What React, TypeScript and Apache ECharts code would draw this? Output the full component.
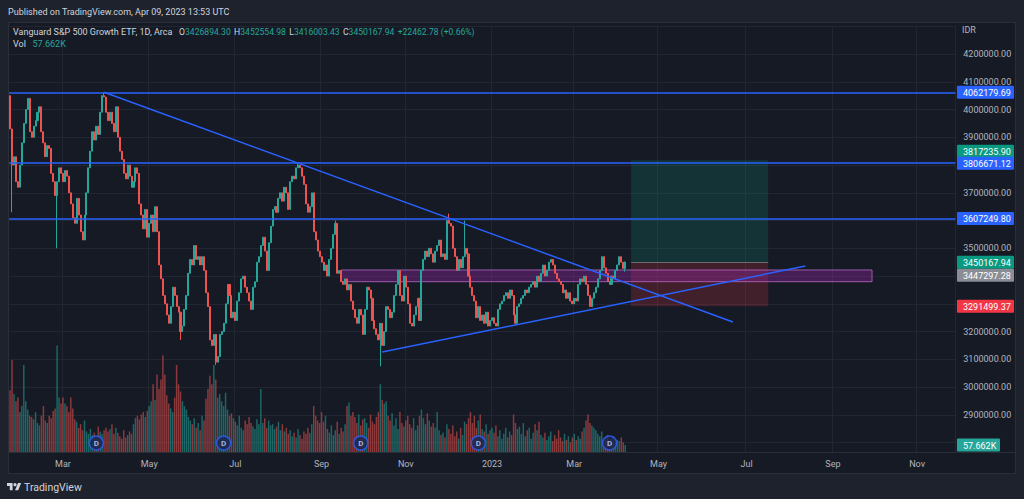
import * as echarts from "echarts";
import { useEffect, useRef } from "react";

// weekday axis, Jan 21 2022 to late Nov 2023 (empty future on the right)
const FIRST_DAY = Date.UTC(2022, 0, 21);
const AXIS_DAYS = 483;
const MONTHS = ["Jan", "Feb", "Mar", "Apr", "May", "Jun", "Jul", "Aug", "Sep", "Oct", "Nov", "Dec"];

// daily closes in thousands of IDR, Jan 21 2022 .. Apr 5 2023
const FIRST_OPEN = 4050;
const closes = [
  // Jan 2022
  3930, 3800, 3830, 3740, 3720, 3800, 3880,
  // Feb
  3950, 4000, 4040, 3920, 3900, 3940, 3960, 3990, 4010, 3920, 3880, 3830, 3870, 3860, 3770, 3740, 3690, 3740, 3790, 3770,
  // Mar
  3740, 3780, 3760, 3700, 3660, 3610, 3590, 3680, 3620, 3560, 3530, 3620, 3700, 3790, 3850, 3920, 3890, 3940, 3910, 3990, 4050, 4045, 3990,
  // Apr
  3960, 3990, 3950, 3920, 4010, 3900, 3850, 3820, 3770, 3750, 3800, 3760, 3720, 3740, 3790, 3770, 3660, 3620, 3570, 3640, 3540,
  // May
  3590, 3620, 3560, 3650, 3560, 3440, 3390, 3330, 3300, 3260, 3230, 3290, 3360, 3330, 3290, 3270, 3200, 3220, 3280, 3330, 3410, 3460,
  // Jun
  3440, 3510, 3460, 3470, 3440, 3470, 3420, 3340, 3290, 3170, 3150, 3190, 3090, 3110, 3190, 3200, 3230, 3300, 3370, 3330, 3250, 3270,
  // Jul
  3240, 3310, 3340, 3390, 3400, 3360, 3340, 3310, 3280, 3360, 3380, 3450, 3470, 3510, 3540, 3490, 3420, 3520, 3580, 3640, 3650,
  // Aug
  3630, 3680, 3700, 3670, 3720, 3700, 3640, 3740, 3760, 3750, 3790, 3800, 3790, 3760, 3730, 3660, 3630, 3650, 3700, 3560, 3530, 3490, 3470,
  // Sep
  3450, 3420, 3440, 3400, 3460, 3500, 3550, 3590, 3410, 3420, 3380, 3370, 3390, 3350, 3370, 3310, 3280, 3250, 3230, 3280, 3260, 3190,
  // Oct
  3280, 3360, 3350, 3320, 3240, 3210, 3190, 3170, 3230, 3150, 3200, 3290, 3280, 3250, 3270, 3330, 3370, 3420, 3330, 3310, 3400,
  // Nov
  3360, 3300, 3230, 3220, 3260, 3290, 3320, 3240, 3420, 3460, 3490, 3470, 3500, 3480, 3450, 3490, 3510, 3530, 3470, 3480, 3460, 3600,
  // Dec
  3590, 3580, 3500, 3470, 3420, 3460, 3430, 3470, 3500, 3480, 3400, 3360, 3330, 3310, 3250, 3290, 3240, 3260, 3230, 3270, 3220, 3240,
  // Jan 2023
  3250, 3230, 3220, 3280, 3300, 3310, 3330, 3340, 3320, 3350, 3330, 3260, 3230, 3290, 3300, 3320, 3330, 3350, 3340, 3360, 3370, 3380,
  // Feb
  3360, 3400, 3380, 3410, 3440, 3400, 3420, 3450, 3460, 3440, 3410, 3390, 3380, 3370, 3340, 3350, 3320, 3340, 3310, 3300,
  // Mar
  3320, 3310, 3370, 3390, 3380, 3400, 3370, 3330, 3290, 3320, 3340, 3360, 3390, 3420, 3470, 3430, 3410, 3380, 3370, 3400, 3390, 3420, 3440,
  // Apr
  3470, 3450, 3427.70516,
];

// the bar shown in the legend (Apr 6 2023)
const LAST_BAR = { open: 3426894.3, high: 3452554.98, low: 3416003.43, close: 3450167.94 };
const PREV_CLOSE = 3427705.16;

// wicks that stick out past the body (bar index -> thousands IDR)
const lowWicks: Record<number, number> = { 1: 3630, 24: 3500, 87: 3170, 105: 3080, 189: 3075 };
const highWicks: Record<number, number> = { 48: 4062, 147: 3808, 166: 3600, 224: 3625, 232: 3600 };

// daily volume, thousands of shares
const volumes = [
  510, 760, 480, 420, 450, 330, 380,
  720, 420, 350, 300, 290, 270, 330, 240, 220, 300, 380, 260, 240, 300, 280, 340, 360, 880, 450, 400,
  450, 400, 380, 330, 450, 360, 270, 250, 200, 230, 180, 260, 170, 150, 190, 140, 160, 130, 210, 170, 150, 180, 200,
  170, 190, 230, 150, 200, 160, 130, 110, 180, 120, 140, 170, 150, 230, 280, 300, 270, 310, 330, 290, 340,
  380, 420, 560, 430, 640, 520, 600, 800, 640, 470, 400, 360, 330, 450, 720, 560, 500, 420, 380, 350, 290, 260,
  230, 280, 200, 240, 180, 300, 260, 440, 520, 630, 560, 720, 600, 450, 480, 420, 380, 490, 350, 300, 320, 280,
  250, 220, 300, 200, 180, 260, 230, 290, 240, 210, 190, 270, 230, 520, 240, 280, 200, 260, 220, 230, 190,
  210, 250, 180, 230, 170, 200, 150, 180, 130, 160, 120, 190, 140, 110, 170, 150, 200, 160, 230, 380, 300, 260, 240,
  330, 250, 300, 190, 160, 220, 140, 180, 250, 150, 200, 170, 230, 380, 410, 300, 330, 290, 240, 310, 220, 270,
  280, 240, 200, 310, 250, 230, 290, 330, 560, 430, 400, 420, 300, 260, 320, 220, 280, 190, 330, 240, 210,
  260, 300, 230, 200, 280, 180, 220, 300, 350, 280, 230, 320, 260, 210, 240, 200, 330, 180, 140, 160, 120, 230,
  190, 150, 220, 130, 170, 110, 200, 140, 250, 230, 280, 330, 240, 300, 200, 260, 310, 190, 170, 230, 150, 180,
  200, 160, 220, 130, 180, 110, 150, 200, 120, 170, 140, 310, 240, 190, 210, 150, 240, 130, 180, 200, 110, 160,
  230, 180, 250, 140, 120, 160, 100, 130, 170, 90, 140, 110, 180, 120, 90, 150, 100, 130, 80, 120,
  150, 100, 130, 110, 170, 200, 260, 310, 240, 220, 200, 180, 150, 130, 170, 100, 120, 140, 90, 110, 130, 80, 100,
  90, 120, 80, 57.662,
];

// dividend markers (bar index)
const dividendBars = [44, 109, 179, 239, 306];
const DIVIDEND_LEVEL = 74;

// drawings (bar index, price)
const levels = [4062179.69, 3806671.12, 3607249.8];
const downTrend: [number, number][] = [[48, 4062179.69], [369, 3234700]];
const upTrend: [number, number][] = [[190, 3126600], [406, 3436400]];
const zone = { from: 169, to: 440, top: 3421970, bottom: 3379830 };
const position = { from: 317, to: 387, target: 3817235.9, entry: 3450167.94, stop: 3291499.37 };
const MARKED_PRICE = 3447297.28;

const UP = "#26a69a";
const DOWN = "#ef5350";
const BLUE = "#2962ff";
const TEXT = "#d1d4dc";
const AXIS_TEXT = "#b2b5be";
const GRID = "#222632";
const FRAME = "#1e222d";
const PANEL = "#161a25";

echarts.graphic.registerShape(
  "tvlogo",
  echarts.graphic.extendPath("M14 22H7V11H0V4h14v18ZM28 22h-8l7.5-18h8L28 22ZM24 8a4 4 0 1 1-8 0a4 4 0 1 1 8 0Z", {})
);

const dates: string[] = [];
for (let t = FIRST_DAY; dates.length < AXIS_DAYS; t += 86400000) {
  const d = new Date(t);
  if (d.getUTCDay() !== 0 && d.getUTCDay() !== 6) dates.push(d.toISOString().slice(0, 10));
}

const labelIdx = new Set<number>();
dates.forEach((s, i) => {
  if (i > 0 && s.slice(5, 7) !== dates[i - 1].slice(5, 7) && (Number(s.slice(5, 7)) - 1) % 2 === 0) labelIdx.add(i);
});

const candles = closes.map((c, i) => {
  const o = i === 0 ? FIRST_OPEN : closes[i - 1];
  const lo = lowWicks[i] ?? Math.min(o, c);
  const hi = highWicks[i] ?? Math.max(o, c);
  return [o * 1000, c * 1000, lo * 1000, hi * 1000];
});
candles.push([LAST_BAR.open, LAST_BAR.close, LAST_BAR.low, LAST_BAR.high]);

const volumeData = volumes.map((v, i) => ({
  value: v,
  itemStyle: { color: candles[i][1] >= candles[i][0] ? "rgba(38,166,154,0.55)" : "rgba(239,83,80,0.55)" },
}));

const fmt = (v: number) => v.toFixed(2);
const change = LAST_BAR.close - PREV_CLOSE;
const changePct = (change / PREV_CLOSE) * 100;

function badge(label: string, y: number, bg: string, w = 57) {
  return {
    type: "group",
    x: 957,
    y: y - 6.5,
    children: [
      { type: "rect", z: 60, shape: { x: 0, y: 0, width: w, height: 13, r: 1 }, style: { fill: bg } },
      {
        type: "text",
        z: 61,
        x: 6,
        y: 7,
        style: { text: label, fill: "#ffffff", fontSize: 9, fontFamily: "Roboto", verticalAlign: "middle" },
      },
    ],
  };
}

export default function App() {
  const ref = useRef<HTMLDivElement>(null);

  useEffect(() => {
    if (!ref.current) return;
    const chart = echarts.init(ref.current, null, { renderer: "svg" });

    const lineStyle = { color: BLUE, width: 1.5, type: "solid" };
    chart.setOption({
      animation: false,
      backgroundColor: PANEL,
      textStyle: { fontFamily: "Roboto" },
      grid: [
        { left: 9.1, right: 68.7, top: 26.24, bottom: 56.36 },
        { left: 9.1, right: 68.7, top: 26.24, bottom: 47 },
      ],
      xAxis: [
        { type: "category", gridIndex: 0, data: dates, show: false },
        {
          type: "category",
          gridIndex: 1,
          data: dates,
          axisLine: { show: false },
          axisTick: { show: false },
          axisLabel: {
            interval: (i: number) => labelIdx.has(i),
            formatter: (v: string) => {
              const m = Number(v.slice(5, 7));
              return m === 1 ? v.slice(0, 4) : MONTHS[m - 1];
            },
            color: AXIS_TEXT,
            fontSize: 9,
            margin: 7,
          },
          splitLine: { show: true, interval: (i: number) => labelIdx.has(i), lineStyle: { color: GRID, width: 1 } },
        },
      ],
      yAxis: [
        {
          type: "value",
          gridIndex: 0,
          position: "right",
          min: 2800000,
          max: 4300000,
          interval: 100000,
          axisLine: { show: false },
          axisTick: { show: false },
          axisLabel: {
            color: AXIS_TEXT,
            fontSize: 9,
            margin: 8,
            formatter: (v: number) => (v > 4200000 ? "" : fmt(v)),
          },
          splitLine: { lineStyle: { color: GRID, width: 1 } },
        },
        { type: "value", gridIndex: 1, min: 0, max: 3520, show: false },
      ],
      series: [
        {
          type: "bar",
          xAxisIndex: 1,
          yAxisIndex: 1,
          data: volumeData,
          barWidth: "75%",
          z: 1,
        },
        {
          type: "candlestick",
          xAxisIndex: 0,
          yAxisIndex: 0,
          data: candles,
          barWidth: "78%",
          z: 3,
          itemStyle: { color: UP, color0: DOWN, borderColor: UP, borderColor0: DOWN, borderWidth: 1 },
          markLine: {
            silent: true,
            symbol: ["none", "none"],
            label: { show: false },
            lineStyle,
            data: [
              ...levels.map((v) => ({ yAxis: v, lineStyle })),
              [
                { coord: [dates[downTrend[0][0]], downTrend[0][1]] },
                { coord: [dates[downTrend[1][0]], downTrend[1][1]] },
              ],
              [
                { coord: [dates[upTrend[0][0]], upTrend[0][1]] },
                { coord: [dates[upTrend[1][0]], upTrend[1][1]] },
              ],
              [
                { coord: [dates[position.from], position.entry], lineStyle: { color: "rgba(149,152,161,0.6)", width: 1, type: "solid" } },
                { coord: [dates[position.to], position.entry] },
              ],
            ],
          },
          markArea: {
            silent: true,
            label: { show: false },
            data: [
              [
                { xAxis: dates[position.from], yAxis: position.target, itemStyle: { color: "rgba(8,153,129,0.2)" } },
                { xAxis: dates[position.to], yAxis: position.entry },
              ],
              [
                { xAxis: dates[position.from], yAxis: position.entry, itemStyle: { color: "rgba(242,54,69,0.2)" } },
                { xAxis: dates[position.to], yAxis: position.stop },
              ],
              [
                {
                  xAxis: dates[zone.from],
                  yAxis: zone.top,
                  itemStyle: { color: "rgba(156,39,176,0.35)", borderColor: "rgba(186,104,200,0.8)", borderWidth: 1 },
                },
                { xAxis: dates[zone.to], yAxis: zone.bottom },
              ],
            ],
          },
        },
        {
          type: "scatter",
          xAxisIndex: 1,
          yAxisIndex: 1,
          z: 5,
          symbol: "circle",
          symbolSize: 14,
          data: dividendBars.map((i) => [dates[i], DIVIDEND_LEVEL]),
          itemStyle: { color: "#1a2553", borderColor: BLUE, borderWidth: 1.5 },
          label: { show: true, position: "inside", formatter: "D", color: "#c9d4ff", fontSize: 8, fontWeight: "bold" },
        },
      ],
    });

    const py = (v: number, axis = 0) => chart.convertToPixel({ yAxisIndex: axis }, v) as number;
    const lastVol = volumes[volumes.length - 1];
    const entryY = py(position.entry);

    const badges: [string, number, string, number?][] = [
      [fmt(levels[0]), py(levels[0]), BLUE],
      [fmt(position.target), py(levels[1]) - 12, "#089981"],
      [fmt(levels[1]), py(levels[1]), BLUE],
      [fmt(levels[2]), py(levels[2]), BLUE],
      [fmt(LAST_BAR.close), entryY, "#089981"],
      [fmt(MARKED_PRICE), entryY + 13, "#8a8d96"],
      [fmt(position.stop), py(position.stop), "#f23645"],
      [lastVol.toFixed(3) + "K", py(lastVol, 1), UP, 43],
    ];
    // tick labels that sit under a badge are hidden, as on the original
    const covered = (v: number) => badges.some((b) => Math.abs(py(v) - b[1]) < 10);

    chart.setOption({
      yAxis: [
        { axisLabel: { formatter: (v: number) => (v > 4200000 || covered(v) ? "" : fmt(v)) } },
        {},
      ],
      graphic: {
        elements: [
          // frame around the chart panel
          { type: "rect", z: 40, shape: { x: 0, y: 0, width: 1024, height: 22 }, style: { fill: FRAME } },
          { type: "rect", z: 40, shape: { x: 0, y: 474, width: 1024, height: 25 }, style: { fill: FRAME } },
          { type: "rect", z: 40, shape: { x: 0, y: 0, width: 8, height: 499 }, style: { fill: FRAME } },
          { type: "rect", z: 40, shape: { x: 1016, y: 0, width: 8, height: 499 }, style: { fill: FRAME } },
          { type: "rect", z: 41, shape: { x: 8.5, y: 22.5, width: 1007, height: 451 }, style: { fill: "none", stroke: "#2a2e39", lineWidth: 1 } },
          { type: "line", z: 41, shape: { x1: 8.5, y1: 452.5, x2: 1015.5, y2: 452.5 }, style: { stroke: "#2a2e39", lineWidth: 1 } },
          {
            type: "text",
            z: 50,
            x: 8,
            y: 11.5,
            style: { text: "Published on TradingView.com, Apr 09, 2023 13:53 UTC", fill: TEXT, fontSize: 9, fontFamily: "Roboto", verticalAlign: "middle" },
          },
          {
            type: "text",
            z: 50,
            x: 13,
            y: 31.5,
            style: {
              text:
                "{t|Vanguard S&P 500 Growth ETF, 1D, Arca}  {s|O}{v|" + fmt(LAST_BAR.open) + "} {s|H}{v|" + fmt(LAST_BAR.high) +
                "} {s|L}{v|" + fmt(LAST_BAR.low) + "} {s|C}{v|" + fmt(LAST_BAR.close) + "} {v|+" + fmt(change) +
                " (+" + changePct.toFixed(2) + "%)}",
              verticalAlign: "middle",
              rich: {
                t: { fill: TEXT, fontSize: 9, fontFamily: "Roboto" },
                s: { fill: TEXT, fontSize: 8.6, fontFamily: "Roboto" },
                v: { fill: UP, fontSize: 8.6, fontFamily: "Roboto" },
              },
            },
          },
          {
            type: "text",
            z: 50,
            x: 13,
            y: 43.5,
            style: {
              text: "{t|Vol}  {v|" + lastVol.toFixed(3) + "K}",
              verticalAlign: "middle",
              rich: {
                t: { fill: TEXT, fontSize: 9, fontFamily: "Roboto" },
                v: { fill: UP, fontSize: 9, fontFamily: "Roboto" },
              },
            },
          },
          {
            type: "text",
            z: 50,
            x: 962,
            y: 30,
            style: { text: "IDR", fill: AXIS_TEXT, fontSize: 9, fontFamily: "Roboto", verticalAlign: "middle" },
          },
          ...badges.map((b) => badge(b[0], b[1], b[2], b[3])),
          // footer logo
          { type: "tvlogo", z: 50, x: 7, y: 481.5, scaleX: 0.4, scaleY: 0.4, style: { fill: TEXT } },
          {
            type: "text",
            z: 50,
            x: 24,
            y: 487,
            style: { text: "TradingView", fill: TEXT, fontSize: 10.5, fontFamily: "Roboto", verticalAlign: "middle" },
          },
        ],
      },
    });

    return () => {
      chart.dispose();
    };
  }, []);

  return <div ref={ref} style={{ position: "fixed", left: 0, top: 0, width: 1024, height: 499 }} />;
}
